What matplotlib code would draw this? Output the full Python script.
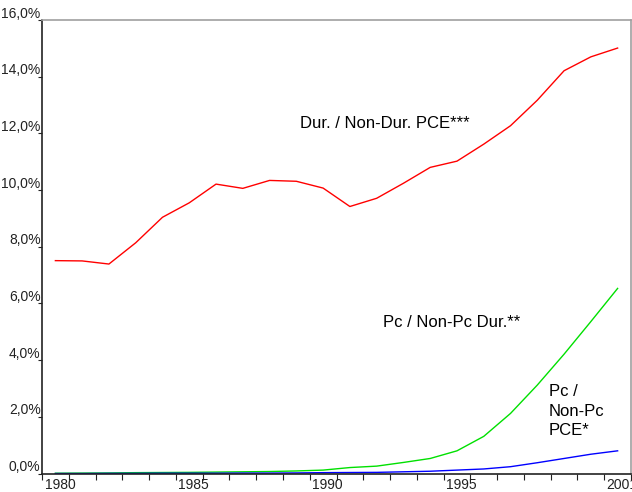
import matplotlib.pyplot as plt
from matplotlib.transforms import ScaledTranslation
import numpy as np

years = list(range(1980, 2002))

# Dur. / Non-Dur. PCE (percent)
dur_ratio = [7.51, 7.50, 7.39, 8.14, 9.04, 9.55, 10.21, 10.06, 10.34, 10.31, 10.07,
             9.42, 9.71, 10.24, 10.80, 11.02, 11.62, 12.27, 13.17, 14.21, 14.70, 15.01]
# Pc / Non-Pc Dur. (percent)
pc_dur = [0.01, 0.015, 0.02, 0.03, 0.035, 0.04, 0.05, 0.06, 0.07, 0.09, 0.12,
          0.21, 0.26, 0.39, 0.53, 0.80, 1.31, 2.12, 3.12, 4.21, 5.36, 6.53]
# Pc / Non-Pc PCE (percent)
pc_pce = [0.0, 0.0, 0.005, 0.005, 0.01, 0.01, 0.01, 0.015, 0.015, 0.02, 0.03,
          0.035, 0.04, 0.06, 0.08, 0.12, 0.16, 0.24, 0.38, 0.53, 0.68, 0.80]

year_labels = ['1980', '1985', '1990', '1995', '2001']
y_ticks = [0, 2, 4, 6, 8, 10, 12, 14, 16]

plt.rcParams['font.family'] = ['Liberation Sans', 'DejaVu Sans']
tick_font = ['Liberation Sans Narrow', 'Liberation Sans']

fig = plt.figure(figsize=(6.32, 4.92), dpi=100)
ax = fig.add_axes([42 / 632, 18.5 / 492, 589 / 632, 453.5 / 492])

x = np.arange(len(years))
ax.plot(x, dur_ratio, color='#ff0000', lw=1.0)
ax.plot(x, pc_dur, color='#00e000', lw=1.0)
ax.plot(x, pc_pce, color='#0000ff', lw=1.0)

ax.set_xlim(-0.5, len(years) - 0.5)
ax.set_ylim(0, 16)

# category axis: tick marks on the boundaries, labels near the centres
ax.set_xticks(np.arange(-0.5, len(years)), minor=True)
ax.tick_params(axis='x', which='minor', length=4, width=0.8, color='#222222', direction='out')
label_pos = [years.index(int(s)) + 0.17 for s in year_labels]
ax.set_xticks(label_pos)
ax.set_xticklabels(year_labels)
ax.tick_params(axis='x', which='major', length=0, pad=3, labelcolor='#222222')

ax.set_yticks(y_ticks)
ax.yaxis.set_major_formatter(plt.FuncFormatter(lambda v, p: ('%.1f%%' % v).replace('.', ',')))
ax.tick_params(axis='y', length=3, width=0.8, color='#222222', direction='out', pad=-2,
               labelcolor='#222222')
offset = ScaledTranslation(0, 8 / 100, fig.dpi_scale_trans)
for lab in ax.get_yticklabels():
    lab.set_transform(lab.get_transform() + offset)
for lab in ax.get_yticklabels() + ax.get_xticklabels():
    lab.set_family(tick_font)
    lab.set_fontsize(10)

for side in ['top', 'right']:
    ax.spines[side].set_color('#a0a0a0')
    ax.spines[side].set_linewidth(1.2)
for side in ['left', 'bottom']:
    ax.spines[side].set_color('#222222')
    ax.spines[side].set_linewidth(1.2)

ax.text(9.14, 12.36, 'Dur. / Non-Dur. PCE***', fontsize=12, va='center', ha='left')
ax.text(12.24, 5.31, 'Pc / Non-Pc Dur.**', fontsize=12, va='center', ha='left')
ax.text(18.43, 2.2, 'Pc /\nNon-Pc\nPCE*', fontsize=12, va='center', ha='left',
        linespacing=1.35)

fig.savefig('out.png', dpi=100)
